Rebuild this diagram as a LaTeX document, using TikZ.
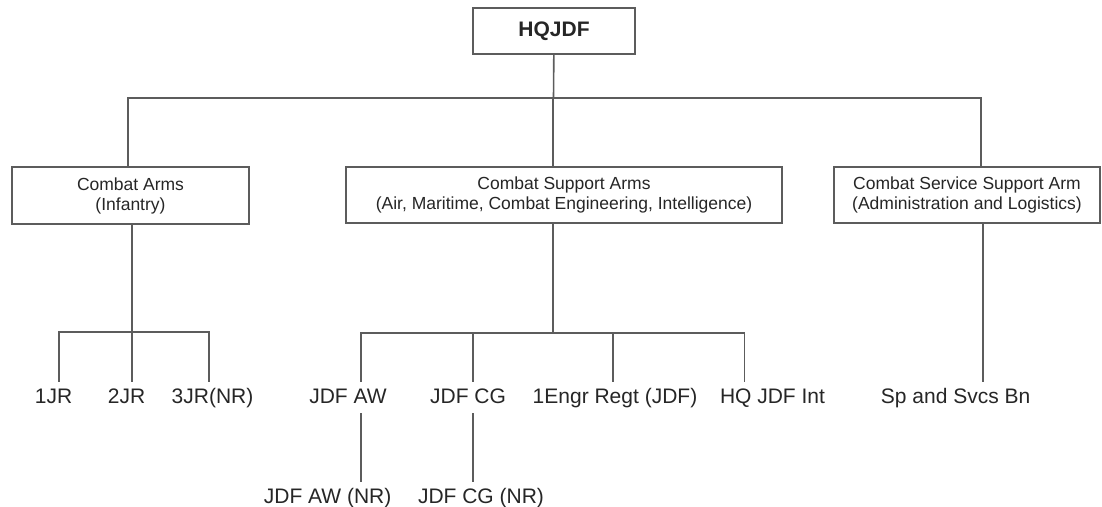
\documentclass[tikz,border=0pt]{standalone}
\usepackage{fontspec}
\setmainfont{Liberation Sans}
\definecolor{linegray}{HTML}{5C5C5C}
\definecolor{textgray}{HTML}{262626}
\tikzset{
  unitbox/.style={draw=linegray, line width=1.6pt, fill=white, inner sep=0pt, align=center, text=textgray, font=\fontsize{17.5}{20}\selectfont},
  unitname/.style={anchor=base, text=textgray, font=\fontsize{21}{24}\selectfont, inner xsep=0pt, inner ysep=6pt, text height=15pt, text depth=4pt},
  link/.style={draw=linegray, line width=1.6pt}
}

\begin{document}
\begin{tikzpicture}[x=1pt, y=-1pt]
\useasboundingbox (0,0) rectangle (1102,506);
\node[unitbox, minimum width=162pt, minimum height=46pt, font=\fontsize{21}{24}\selectfont\bfseries] (hq) at (554,31) {HQJDF};
\node[unitbox, minimum width=237pt, minimum height=57pt] (ca) at (130.5,195.5) {Combat Arms\\(Infantry)};
\node[unitbox, minimum width=436pt, minimum height=56pt] (csa) at (564,195) {Combat Support Arms\\(Air, Maritime, Combat Engineering, Intelligence)};
\node[unitbox, minimum width=266pt, minimum height=56pt] (cssa) at (967,195) {Combat Service Support Arm\\(Administration and Logistics)};
\node[unitname] (jr1) at (53.5,403) {1JR};
\node[unitname] (jr2) at (126.5,403) {2JR};
\node[unitname] (jr3) at (212.5,403) {3JR(NR)};
\node[unitname] (aw) at (348,403) {JDF AW};
\node[unitname] (cg) at (468,403) {JDF CG};
\node[unitname] (engr) at (615,403) {1Engr Regt (JDF)};
\node[unitname] (int) at (772.5,403) {HQ JDF Int};
\node[unitname] (sp) at (955.6,403) {Sp and Svcs Bn};
\node[unitname] (awnr) at (327.6,503) {JDF AW (NR)};
\node[unitname] (cgnr) at (481,503) {JDF CG (NR)};
\coordinate (top) at (553.5,98);
\coordinate (cabus) at (132,332);
\coordinate (csabus) at (553,333);
\path[link] (hq) -- (top);
\path[link] ([xshift=-2.5pt]ca.north) |- (top);
\path[link] ([xshift=-11pt]csa.north) |- (top);
\path[link] ([xshift=14pt]cssa.north) |- (top);
\path[link] ([xshift=1.5pt]ca.south) -- (cabus);
\path[link] ([xshift=5.5pt]jr1.north) |- (cabus);
\path[link] ([xshift=5.5pt]jr2.north) |- (cabus);
\path[link] ([xshift=-3.5pt]jr3.north) |- (cabus);
\path[link] ([xshift=-11pt]csa.south) -- (csabus);
\path[link] ([xshift=13pt]aw.north) |- (csabus);
\path[link] ([xshift=5pt]cg.north) |- (csabus);
\path[link] ([xshift=-2pt]engr.north) |- (csabus);
\path[link] ([xshift=-28pt]int.north) |- (csabus);
\path[link] ([xshift=13pt]aw.south) -- ([xshift=33.4pt]awnr.north);
\path[link] ([xshift=5pt]cg.south) -- ([xshift=-8pt]cgnr.north);
\path[link] ([xshift=16pt]cssa.south) -- ([xshift=27.4pt]sp.north);
\end{tikzpicture}
\end{document}
